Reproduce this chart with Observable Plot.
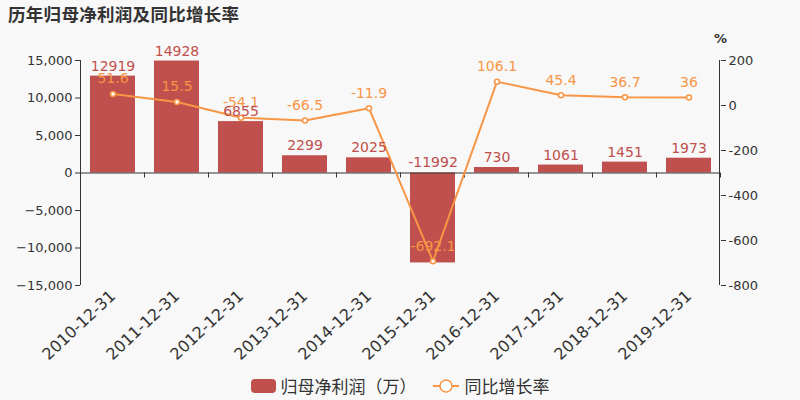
<!DOCTYPE html>
<html><head><meta charset="utf-8">
<script src="https://cdn.jsdelivr.net/npm/d3@7"></script>
<script src="https://cdn.jsdelivr.net/npm/@observablehq/plot@0.6"></script>
<style>
  html,body{margin:0;padding:0;background:#f8f8f8;}
  body{width:800px;height:400px;position:relative;overflow:hidden;font-family:"DejaVu Sans","Noto Sans CJK SC",sans-serif;color:#333;}
  #title{position:absolute;left:8px;top:1px;font-size:17.5px;font-weight:bold;color:#333;font-family:"Noto Sans CJK SC",sans-serif;letter-spacing:0.3px;}
  #chart{position:absolute;left:0;top:30px;}
  #pct{position:absolute;left:714px;top:31px;font-size:13px;font-weight:bold;color:#333;}
  #legend{position:absolute;top:373px;left:0;width:800px;display:flex;justify-content:center;align-items:center;font-size:17px;color:#333;font-family:"Noto Sans CJK SC",sans-serif;}
  .sw{display:inline-block;width:25px;height:14px;border-radius:4px;background:#c0504d;margin-right:5px;}
  .item{display:flex;align-items:center;margin:0 8px;}
</style></head>
<body>
<div id="title">历年归母净利润及同比增长率</div>
<div id="chart"></div>
<div id="pct">%</div>
<div id="legend">
  <span class="item"><span class="sw"></span>归母净利润（万）</span>
  <span class="item"><svg width="26" height="16" style="margin-right:6px"><line x1="0" y1="8" x2="26" y2="8" stroke="#f79646" stroke-width="2"/><circle cx="13" cy="8" r="6" fill="#fff" stroke="#f79646" stroke-width="1.5"/></svg>同比增长率</span>
</div>
<script>
const categories = ["2010-12-31","2011-12-31","2012-12-31","2013-12-31","2014-12-31","2015-12-31","2016-12-31","2017-12-31","2018-12-31","2019-12-31"];
const profit = [12919, 14928, 6855, 2299, 2025, -11992, 730, 1061, 1451, 1973];
const growth = [51.6, 15.5, -54.1, -66.5, -11.9, -692.1, 106.1, 45.4, 36.7, 36];
const leftTicks = [-15000, -10000, -5000, 0, 5000, 10000, 15000];
const rightTicks = [-800, -600, -400, -200, 0, 200];
const leftDomain = [-15000, 15000];
const rightDomain = [-800, 200];

const data = categories.map((c, i) => ({date: c, profit: profit[i], growth: growth[i]}));
const toLeft = v => leftDomain[0] + (v - rightDomain[0]) / (rightDomain[1] - rightDomain[0]) * (leftDomain[1] - leftDomain[0]);
const fromLeft = v => rightDomain[0] + (v - leftDomain[0]) / (leftDomain[1] - leftDomain[0]) * (rightDomain[1] - rightDomain[0]);

const RED = "#c0504d", ORANGE = "#f79646";

const axisLines = (index, scales, values, dims) => {
  const x = scales.x, y = scales.y;
  const step = x(categories[1]) - x(categories[0]);
  const bw = typeof x.bandwidth === "function" ? x.bandwidth() : step * 0.7;
  const off = (step - bw) / 2;
  const y0 = y(0);
  const g = d3.create("svg:g").attr("stroke", "#333").attr("stroke-width", 1).attr("fill", "none");
  const xs = categories.map(c => x(c) - off);
  xs.push(x(categories[categories.length - 1]) + bw + off);
  for (const xx of xs) g.append("line").attr("x1", xx).attr("x2", xx).attr("y1", y0).attr("y2", y0 + 5);
  const yt = y(leftDomain[1]), yb = y(leftDomain[0]);
  const xl = dims.marginLeft, xr = dims.width - dims.marginRight;
  g.append("line").attr("x1", xl + 0.5).attr("x2", xl + 0.5).attr("y1", yt).attr("y2", yb);
  g.append("line").attr("x1", xr - 0.5).attr("x2", xr - 0.5).attr("y1", yt).attr("y2", yb);
  return g.node();
};

const chart = Plot.plot({
  width: 800,
  height: 340,
  marginTop: 30,
  marginBottom: 85,
  marginLeft: 80,
  marginRight: 80,
  style: {background: "transparent", fontFamily: "DejaVu Sans, Noto Sans CJK SC, sans-serif", color: "#333"},
  x: {type: "band", domain: categories, paddingInner: 0.3, paddingOuter: 0.15},
  y: {domain: leftDomain},
  marks: [
    Plot.barY(data, {x: "date", y: "profit", fill: RED}),
    Plot.ruleY([0], {stroke: "#333", strokeWidth: 1}),
    axisLines,
    Plot.axisY(leftTicks, {anchor: "left", tickSize: 5, tickPadding: 3, fontSize: 13, tickFormat: d3.format(","), label: null, stroke: "#333"}),
    Plot.axisY(rightTicks.map(toLeft), {anchor: "right", tickSize: 5, tickPadding: 3, fontSize: 13, tickFormat: d => String(Math.round(fromLeft(d))), label: null, stroke: "#333"}),
    Plot.axisX({tickRotate: -43, tickSize: 0, tickPadding: 8, fontSize: 16, label: null}),
    Plot.line(data, {x: "date", y: d => toLeft(d.growth), stroke: ORANGE, strokeWidth: 2}),
    Plot.dot(data, {x: "date", y: d => toLeft(d.growth), r: 2.5, fill: "white", stroke: ORANGE, strokeWidth: 1.5}),
    Plot.text(data, {x: "date", y: d => toLeft(d.growth), text: d => String(d.growth), dy: -15, fill: ORANGE, fontSize: 14}),
    Plot.text(data, {x: "date", y: d => Math.max(d.profit, 0), text: d => String(d.profit), dy: -10, fill: RED, fontSize: 14})
  ]
});
document.getElementById("chart").appendChild(chart);
</script>
</body></html>
